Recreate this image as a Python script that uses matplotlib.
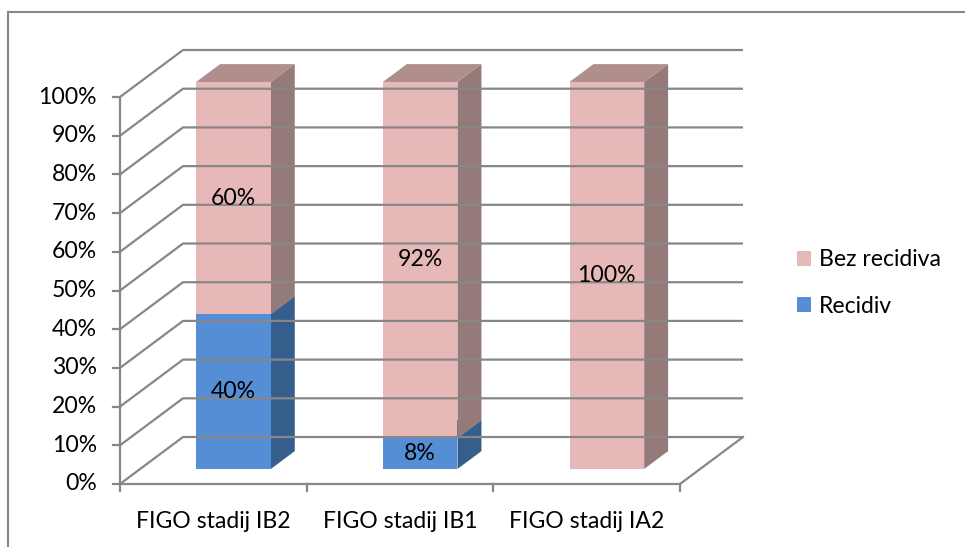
import matplotlib.pyplot as plt
from matplotlib.patches import Polygon, Patch, Rectangle

categories = ["FIGO stadij IB2", "FIGO stadij IB1", "FIGO stadij IA2"]
recidiv = [40, 8, 0]
bez_recidiva = [60, 92, 100]
y_ticks = [0, 10, 20, 30, 40, 50, 60, 70, 80, 90, 100]

# oblique 3d look: depth offsets in data units
DX = 0.3375
DY = 12.14
D0, D1 = 0.32, 0.70
BAR_W = 0.40

GRID = "#878787"
PINK = ("#E6B9B8", "#947B7A", "#B08E8B")
BLUE = ("#558ED5", "#365E8D", "#4A77AE")
FONT = "Lato"
FS = 16.6


def proj(x, y, d):
    return (x + d * DX, y + d * DY)


def box(ax, x0, x1, y0, y1, cols):
    front, side, top = cols
    f = [proj(x0, y0, D0), proj(x1, y0, D0), proj(x1, y1, D0), proj(x0, y1, D0)]
    s = [proj(x1, y0, D0), proj(x1, y0, D1), proj(x1, y1, D1), proj(x1, y1, D0)]
    t = [proj(x0, y1, D0), proj(x1, y1, D0), proj(x1, y1, D1), proj(x0, y1, D1)]
    for pts, c in ((s, side), (t, top), (f, front)):
        ax.add_patch(Polygon(pts, closed=True, facecolor=c, edgecolor="none"))


fig = plt.figure(figsize=(9.65, 5.47), dpi=100)
ax = fig.add_axes([0, 0, 1, 1])
ax.set_xlim(-120 / 186.67, 845 / 186.67)
ax.set_ylim(-63 / 3.87, 484 / 3.87)
ax.axis("off")

n = len(categories)

# back wall + left wall gridlines
for v in y_ticks:
    ax.plot([0, DX, n + DX], [v, v + DY, v + DY], color=GRID, lw=1.6, solid_capstyle="butt")
# floor edges
ax.plot([0, n, n + DX], [0, 0, DY], color=GRID, lw=1.6)
# front vertical axis
ax.plot([0, 0], [0, 100], color=GRID, lw=1.6)
for v in y_ticks:
    ax.plot([-0.0375, 0], [v, v], color=GRID, lw=1.6)
    ax.text(-0.123, v, f"{v}%", ha="right", va="center", fontsize=FS, family=FONT)
for i in range(n + 1):
    ax.plot([i, i], [0, -1.8], color=GRID, lw=1.6)

# bars
for i, cat in enumerate(categories):
    c = i + 0.5
    x0, x1 = c - BAR_W / 2, c + BAR_W / 2
    base = 0
    for val, cols in ((recidiv[i], BLUE), (bez_recidiva[i], PINK)):
        if val > 0:
            box(ax, x0, x1, base, base + val, cols)
            lx, ly = proj(c, base + val / 2, D0)
            ax.text(lx, ly, f"{val}%", ha="center", va="center", fontsize=FS, family=FONT)
        base += val
    ax.text(c, -9.6, cat, ha="center", va="center", fontsize=FS, family=FONT)

handles = [Patch(facecolor=PINK[0]), Patch(facecolor=BLUE[0])]
fig.legend(handles, ["Bez recidiva", "Recidiv"], loc="center left",
           bbox_to_anchor=(797 / 965, 1 - 283 / 547), frameon=False,
           prop={"family": FONT, "size": FS}, handlelength=0.6, handleheight=0.6,
           handletextpad=0.35, labelspacing=1.1, borderpad=0, borderaxespad=0)

fig.patches.append(Rectangle((8 / 965, -0.1), 1.2, 1.1 - 12 / 547, transform=fig.transFigure,
                             fill=False, edgecolor=GRID, lw=1.5))

fig.savefig("out.png", dpi=100)
